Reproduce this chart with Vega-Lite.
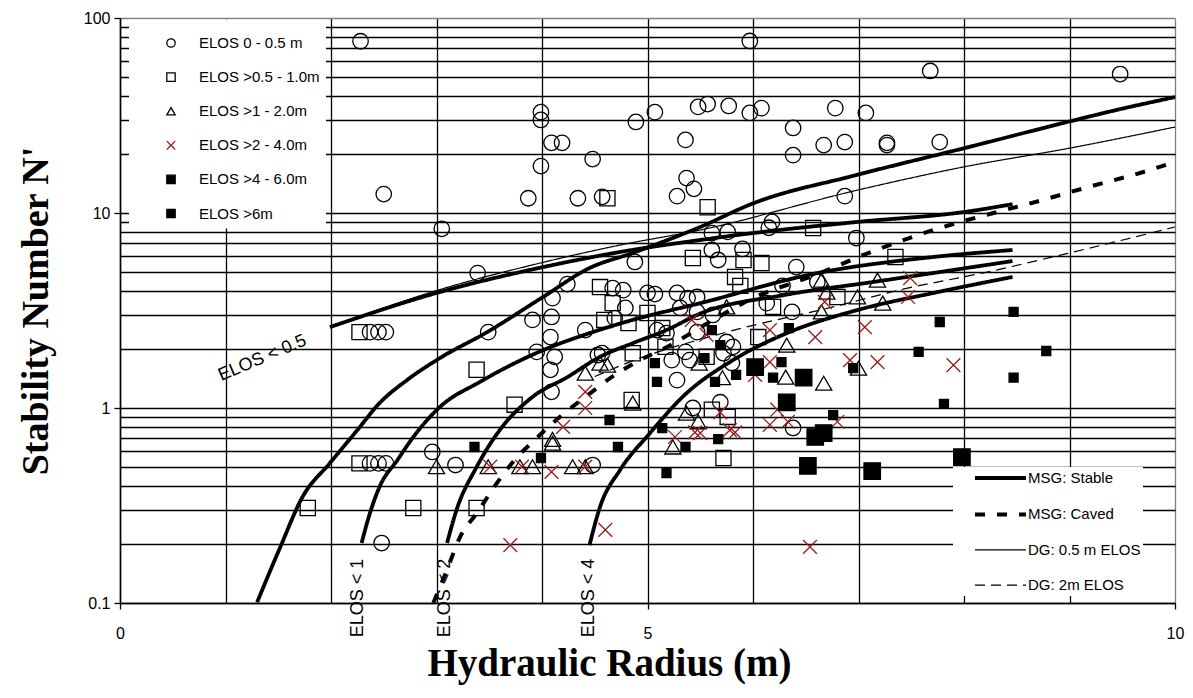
{
  "$schema": "https://vega.github.io/schema/vega-lite/v6.json",
  "width": 1055,
  "height": 585,
  "autosize": {"type": "none"},
  "padding": {"left": 120, "top": 18, "right": 18, "bottom": 95},
  "background": "white",
  "config": {"view": {"stroke": null}, "font": "Liberation Sans"},
  "datasets": {
    "curves": [
      {"id": "s0", "type": "MSG: Stable", "x": 1.30, "y": 0.101},
      {"id": "s0", "type": "MSG: Stable", "x": 1.52, "y": 0.194},
      {"id": "s0", "type": "MSG: Stable", "x": 1.73, "y": 0.350},
      {"id": "s0", "type": "MSG: Stable", "x": 1.99, "y": 0.522},
      {"id": "s0", "type": "MSG: Stable", "x": 2.25, "y": 0.771},
      {"id": "s0", "type": "MSG: Stable", "x": 2.46, "y": 1.06},
      {"id": "s0", "type": "MSG: Stable", "x": 2.72, "y": 1.39},
      {"id": "s0", "type": "MSG: Stable", "x": 3.03, "y": 1.80},
      {"id": "s0", "type": "MSG: Stable", "x": 3.48, "y": 2.45},
      {"id": "s0", "type": "MSG: Stable", "x": 4.01, "y": 3.71},
      {"id": "s0", "type": "MSG: Stable", "x": 4.45, "y": 5.22},
      {"id": "s0", "type": "MSG: Stable", "x": 4.86, "y": 6.24},
      {"id": "s0", "type": "MSG: Stable", "x": 5.50, "y": 8.48},
      {"id": "s0", "type": "MSG: Stable", "x": 6.00, "y": 11.2},
      {"id": "s0", "type": "MSG: Stable", "x": 6.99, "y": 15.7},
      {"id": "s0", "type": "MSG: Stable", "x": 8.09, "y": 22.1},
      {"id": "s0", "type": "MSG: Stable", "x": 8.98, "y": 29.3},
      {"id": "s0", "type": "MSG: Stable", "x": 9.45, "y": 33.8},
      {"id": "s0", "type": "MSG: Stable", "x": 10.0, "y": 39.3},
      {"id": "s1", "type": "MSG: Stable", "x": 1.99, "y": 2.60},
      {"id": "s1", "type": "MSG: Stable", "x": 3.00, "y": 3.89},
      {"id": "s1", "type": "MSG: Stable", "x": 4.01, "y": 5.28},
      {"id": "s1", "type": "MSG: Stable", "x": 4.74, "y": 6.31},
      {"id": "s1", "type": "MSG: Stable", "x": 5.50, "y": 7.27},
      {"id": "s1", "type": "MSG: Stable", "x": 6.00, "y": 7.89},
      {"id": "s1", "type": "MSG: Stable", "x": 6.99, "y": 9.0},
      {"id": "s1", "type": "MSG: Stable", "x": 7.99, "y": 10.1},
      {"id": "s1", "type": "MSG: Stable", "x": 8.46, "y": 11.1},
      {"id": "s2", "type": "MSG: Stable", "x": 2.29, "y": 0.203},
      {"id": "s2", "type": "MSG: Stable", "x": 2.37, "y": 0.290},
      {"id": "s2", "type": "MSG: Stable", "x": 2.46, "y": 0.394},
      {"id": "s2", "type": "MSG: Stable", "x": 2.63, "y": 0.541},
      {"id": "s2", "type": "MSG: Stable", "x": 2.78, "y": 0.710},
      {"id": "s2", "type": "MSG: Stable", "x": 3.03, "y": 1.01},
      {"id": "s2", "type": "MSG: Stable", "x": 3.41, "y": 1.36},
      {"id": "s2", "type": "MSG: Stable", "x": 4.01, "y": 1.98},
      {"id": "s2", "type": "MSG: Stable", "x": 4.45, "y": 2.42},
      {"id": "s2", "type": "MSG: Stable", "x": 4.86, "y": 2.83},
      {"id": "s2", "type": "MSG: Stable", "x": 5.50, "y": 3.45},
      {"id": "s2", "type": "MSG: Stable", "x": 6.61, "y": 4.92},
      {"id": "s2", "type": "MSG: Stable", "x": 7.71, "y": 5.95},
      {"id": "s2", "type": "MSG: Stable", "x": 8.46, "y": 6.46},
      {"id": "s3", "type": "MSG: Stable", "x": 3.10, "y": 0.203},
      {"id": "s3", "type": "MSG: Stable", "x": 3.19, "y": 0.300},
      {"id": "s3", "type": "MSG: Stable", "x": 3.38, "y": 0.498},
      {"id": "s3", "type": "MSG: Stable", "x": 3.60, "y": 0.771},
      {"id": "s3", "type": "MSG: Stable", "x": 3.91, "y": 1.14},
      {"id": "s3", "type": "MSG: Stable", "x": 4.24, "y": 1.44},
      {"id": "s3", "type": "MSG: Stable", "x": 4.55, "y": 1.83},
      {"id": "s3", "type": "MSG: Stable", "x": 4.86, "y": 2.15},
      {"id": "s3", "type": "MSG: Stable", "x": 5.18, "y": 2.51},
      {"id": "s3", "type": "MSG: Stable", "x": 5.50, "y": 3.05},
      {"id": "s3", "type": "MSG: Stable", "x": 6.30, "y": 3.80},
      {"id": "s3", "type": "MSG: Stable", "x": 7.14, "y": 4.43},
      {"id": "s3", "type": "MSG: Stable", "x": 8.46, "y": 5.67},
      {"id": "s4", "type": "MSG: Stable", "x": 4.45, "y": 0.198},
      {"id": "s4", "type": "MSG: Stable", "x": 4.55, "y": 0.311},
      {"id": "s4", "type": "MSG: Stable", "x": 4.74, "y": 0.481},
      {"id": "s4", "type": "MSG: Stable", "x": 5.02, "y": 0.74},
      {"id": "s4", "type": "MSG: Stable", "x": 5.34, "y": 1.15},
      {"id": "s4", "type": "MSG: Stable", "x": 5.81, "y": 1.76},
      {"id": "s4", "type": "MSG: Stable", "x": 6.32, "y": 2.42},
      {"id": "s4", "type": "MSG: Stable", "x": 6.99, "y": 3.18},
      {"id": "s4", "type": "MSG: Stable", "x": 7.71, "y": 3.89},
      {"id": "s4", "type": "MSG: Stable", "x": 8.46, "y": 4.70},
      {"id": "c1", "type": "MSG: Caved", "x": 2.97, "y": 0.100},
      {"id": "c1", "type": "MSG: Caved", "x": 3.10, "y": 0.148},
      {"id": "c1", "type": "MSG: Caved", "x": 3.22, "y": 0.216},
      {"id": "c1", "type": "MSG: Caved", "x": 3.39, "y": 0.293},
      {"id": "c1", "type": "MSG: Caved", "x": 3.56, "y": 0.403},
      {"id": "c1", "type": "MSG: Caved", "x": 3.74, "y": 0.541},
      {"id": "c1", "type": "MSG: Caved", "x": 3.95, "y": 0.702},
      {"id": "c1", "type": "MSG: Caved", "x": 4.19, "y": 0.921},
      {"id": "c1", "type": "MSG: Caved", "x": 4.44, "y": 1.17},
      {"id": "c1", "type": "MSG: Caved", "x": 4.66, "y": 1.44},
      {"id": "c1", "type": "MSG: Caved", "x": 4.93, "y": 1.76},
      {"id": "c1", "type": "MSG: Caved", "x": 5.18, "y": 2.05},
      {"id": "c1", "type": "MSG: Caved", "x": 5.59, "y": 2.76},
      {"id": "c1", "type": "MSG: Caved", "x": 6.00, "y": 3.66},
      {"id": "c1", "type": "MSG: Caved", "x": 6.59, "y": 4.81},
      {"id": "c1", "type": "MSG: Caved", "x": 7.14, "y": 6.38},
      {"id": "c1", "type": "MSG: Caved", "x": 7.71, "y": 8.18},
      {"id": "c1", "type": "MSG: Caved", "x": 8.31, "y": 10.1},
      {"id": "c1", "type": "MSG: Caved", "x": 8.60, "y": 11.1},
      {"id": "c1", "type": "MSG: Caved", "x": 9.18, "y": 13.6},
      {"id": "c1", "type": "MSG: Caved", "x": 9.76, "y": 16.6},
      {"id": "c1", "type": "MSG: Caved", "x": 10.0, "y": 18.3},
      {"id": "d1", "type": "DG: 0.5 m ELOS", "x": 1.99, "y": 2.60},
      {"id": "d1", "type": "DG: 0.5 m ELOS", "x": 3.00, "y": 4.00},
      {"id": "d1", "type": "DG: 0.5 m ELOS", "x": 3.99, "y": 5.55},
      {"id": "d1", "type": "DG: 0.5 m ELOS", "x": 4.74, "y": 6.85},
      {"id": "d1", "type": "DG: 0.5 m ELOS", "x": 5.50, "y": 8.18},
      {"id": "d1", "type": "DG: 0.5 m ELOS", "x": 6.99, "y": 13.1},
      {"id": "d1", "type": "DG: 0.5 m ELOS", "x": 7.99, "y": 17.2},
      {"id": "d1", "type": "DG: 0.5 m ELOS", "x": 9.00, "y": 21.5},
      {"id": "d1", "type": "DG: 0.5 m ELOS", "x": 10.0, "y": 27.6},
      {"id": "d2", "type": "DG: 2m ELOS", "x": 4.50, "y": 1.45},
      {"id": "d2", "type": "DG: 2m ELOS", "x": 4.83, "y": 1.72},
      {"id": "d2", "type": "DG: 2m ELOS", "x": 5.75, "y": 2.45},
      {"id": "d2", "type": "DG: 2m ELOS", "x": 6.76, "y": 3.30},
      {"id": "d2", "type": "DG: 2m ELOS", "x": 7.39, "y": 4.03},
      {"id": "d2", "type": "DG: 2m ELOS", "x": 8.22, "y": 4.98},
      {"id": "d2", "type": "DG: 2m ELOS", "x": 9.00, "y": 6.24},
      {"id": "d2", "type": "DG: 2m ELOS", "x": 10.0, "y": 8.48}
    ],
    "pts": [
      {"g": "ELOS 0 - 0.5 m", "x": 2.28, "y": 76}, {"g": "ELOS 0 - 0.5 m", "x": 2.50, "y": 12.5},
      {"g": "ELOS 0 - 0.5 m", "x": 3.05, "y": 8.3}, {"g": "ELOS 0 - 0.5 m", "x": 3.99, "y": 32.9},
      {"g": "ELOS 0 - 0.5 m", "x": 3.99, "y": 30.0}, {"g": "ELOS 0 - 0.5 m", "x": 4.09, "y": 22.9},
      {"g": "ELOS 0 - 0.5 m", "x": 4.19, "y": 22.9}, {"g": "ELOS 0 - 0.5 m", "x": 3.99, "y": 17.4},
      {"g": "ELOS 0 - 0.5 m", "x": 4.48, "y": 18.9}, {"g": "ELOS 0 - 0.5 m", "x": 3.87, "y": 11.9},
      {"g": "ELOS 0 - 0.5 m", "x": 4.34, "y": 11.9}, {"g": "ELOS 0 - 0.5 m", "x": 4.57, "y": 12.1},
      {"g": "ELOS 0 - 0.5 m", "x": 4.89, "y": 29.3}, {"g": "ELOS 0 - 0.5 m", "x": 5.07, "y": 32.9},
      {"g": "ELOS 0 - 0.5 m", "x": 5.36, "y": 23.7}, {"g": "ELOS 0 - 0.5 m", "x": 5.48, "y": 35.0},
      {"g": "ELOS 0 - 0.5 m", "x": 5.57, "y": 36.2}, {"g": "ELOS 0 - 0.5 m", "x": 5.77, "y": 35.4},
      {"g": "ELOS 0 - 0.5 m", "x": 5.97, "y": 76.2}, {"g": "ELOS 0 - 0.5 m", "x": 5.97, "y": 32.6},
      {"g": "ELOS 0 - 0.5 m", "x": 6.08, "y": 34.5}, {"g": "ELOS 0 - 0.5 m", "x": 5.37, "y": 15.1},
      {"g": "ELOS 0 - 0.5 m", "x": 5.44, "y": 13.3}, {"g": "ELOS 0 - 0.5 m", "x": 5.28, "y": 12.2},
      {"g": "ELOS 0 - 0.5 m", "x": 6.38, "y": 27.3}, {"g": "ELOS 0 - 0.5 m", "x": 6.38, "y": 19.8},
      {"g": "ELOS 0 - 0.5 m", "x": 6.78, "y": 34.5}, {"g": "ELOS 0 - 0.5 m", "x": 6.67, "y": 22.3},
      {"g": "ELOS 0 - 0.5 m", "x": 6.87, "y": 23.1}, {"g": "ELOS 0 - 0.5 m", "x": 7.07, "y": 32.6},
      {"g": "ELOS 0 - 0.5 m", "x": 7.27, "y": 22.9}, {"g": "ELOS 0 - 0.5 m", "x": 7.27, "y": 22.3},
      {"g": "ELOS 0 - 0.5 m", "x": 7.68, "y": 53.5}, {"g": "ELOS 0 - 0.5 m", "x": 7.77, "y": 23.1},
      {"g": "ELOS 0 - 0.5 m", "x": 9.48, "y": 51.6}, {"g": "ELOS 0 - 0.5 m", "x": 6.87, "y": 12.2},
      {"g": "ELOS 0 - 0.5 m", "x": 6.18, "y": 9.0}, {"g": "ELOS 0 - 0.5 m", "x": 6.15, "y": 8.4},
      {"g": "ELOS 0 - 0.5 m", "x": 6.98, "y": 7.44}, {"g": "ELOS 0 - 0.5 m", "x": 3.39, "y": 4.92},
      {"g": "ELOS 0 - 0.5 m", "x": 4.24, "y": 4.32}, {"g": "ELOS 0 - 0.5 m", "x": 4.88, "y": 5.61},
      {"g": "ELOS 0 - 0.5 m", "x": 3.49, "y": 2.45}, {"g": "ELOS 0 - 0.5 m", "x": 4.10, "y": 3.66},
      {"g": "ELOS 0 - 0.5 m", "x": 3.91, "y": 2.83}, {"g": "ELOS 0 - 0.5 m", "x": 4.09, "y": 2.93},
      {"g": "ELOS 0 - 0.5 m", "x": 4.08, "y": 2.31}, {"g": "ELOS 0 - 0.5 m", "x": 3.95, "y": 1.94},
      {"g": "ELOS 0 - 0.5 m", "x": 4.12, "y": 1.83}, {"g": "ELOS 0 - 0.5 m", "x": 4.08, "y": 1.57},
      {"g": "ELOS 0 - 0.5 m", "x": 4.09, "y": 1.21}, {"g": "ELOS 0 - 0.5 m", "x": 4.67, "y": 4.12},
      {"g": "ELOS 0 - 0.5 m", "x": 4.77, "y": 4.02}, {"g": "ELOS 0 - 0.5 m", "x": 4.79, "y": 3.26},
      {"g": "ELOS 0 - 0.5 m", "x": 4.69, "y": 2.89}, {"g": "ELOS 0 - 0.5 m", "x": 4.41, "y": 2.51},
      {"g": "ELOS 0 - 0.5 m", "x": 4.53, "y": 1.87}, {"g": "ELOS 0 - 0.5 m", "x": 5.00, "y": 3.89},
      {"g": "ELOS 0 - 0.5 m", "x": 5.07, "y": 3.84}, {"g": "ELOS 0 - 0.5 m", "x": 5.28, "y": 3.89},
      {"g": "ELOS 0 - 0.5 m", "x": 5.38, "y": 3.66}, {"g": "ELOS 0 - 0.5 m", "x": 5.47, "y": 3.71},
      {"g": "ELOS 0 - 0.5 m", "x": 5.31, "y": 3.26}, {"g": "ELOS 0 - 0.5 m", "x": 5.47, "y": 3.11},
      {"g": "ELOS 0 - 0.5 m", "x": 5.62, "y": 3.0}, {"g": "ELOS 0 - 0.5 m", "x": 5.09, "y": 2.51},
      {"g": "ELOS 0 - 0.5 m", "x": 5.18, "y": 2.42}, {"g": "ELOS 0 - 0.5 m", "x": 5.47, "y": 2.45},
      {"g": "ELOS 0 - 0.5 m", "x": 5.75, "y": 2.18}, {"g": "ELOS 0 - 0.5 m", "x": 5.81, "y": 2.06},
      {"g": "ELOS 0 - 0.5 m", "x": 4.57, "y": 1.91}, {"g": "ELOS 0 - 0.5 m", "x": 5.23, "y": 1.76},
      {"g": "ELOS 0 - 0.5 m", "x": 5.36, "y": 1.94}, {"g": "ELOS 0 - 0.5 m", "x": 5.40, "y": 1.76},
      {"g": "ELOS 0 - 0.5 m", "x": 5.72, "y": 1.91}, {"g": "ELOS 0 - 0.5 m", "x": 5.80, "y": 1.70},
      {"g": "ELOS 0 - 0.5 m", "x": 5.28, "y": 1.39}, {"g": "ELOS 0 - 0.5 m", "x": 5.43, "y": 1.0},
      {"g": "ELOS 0 - 0.5 m", "x": 5.69, "y": 1.07}, {"g": "ELOS 0 - 0.5 m", "x": 6.38, "y": 0.79},
      {"g": "ELOS 0 - 0.5 m", "x": 5.61, "y": 7.89}, {"g": "ELOS 0 - 0.5 m", "x": 5.76, "y": 8.0},
      {"g": "ELOS 0 - 0.5 m", "x": 5.61, "y": 6.46}, {"g": "ELOS 0 - 0.5 m", "x": 5.67, "y": 5.74},
      {"g": "ELOS 0 - 0.5 m", "x": 5.90, "y": 6.54}, {"g": "ELOS 0 - 0.5 m", "x": 6.41, "y": 5.28},
      {"g": "ELOS 0 - 0.5 m", "x": 6.28, "y": 4.23}, {"g": "ELOS 0 - 0.5 m", "x": 6.61, "y": 4.43},
      {"g": "ELOS 0 - 0.5 m", "x": 6.13, "y": 3.45}, {"g": "ELOS 0 - 0.5 m", "x": 6.37, "y": 3.11},
      {"g": "ELOS 0 - 0.5 m", "x": 2.96, "y": 0.595}, {"g": "ELOS 0 - 0.5 m", "x": 3.18, "y": 0.51},
      {"g": "ELOS 0 - 0.5 m", "x": 4.48, "y": 0.51}, {"g": "ELOS 0 - 0.5 m", "x": 2.48, "y": 0.203},
      {"g": "ELOS 0 - 0.5 m", "x": 2.37, "y": 2.45}, {"g": "ELOS 0 - 0.5 m", "x": 2.45, "y": 2.45},
      {"g": "ELOS 0 - 0.5 m", "x": 2.52, "y": 2.45}, {"g": "ELOS 0 - 0.5 m", "x": 2.37, "y": 0.52},
      {"g": "ELOS 0 - 0.5 m", "x": 2.45, "y": 0.52}, {"g": "ELOS 0 - 0.5 m", "x": 2.52, "y": 0.52},
      {"g": "ELOS >0.5 - 1.0m", "x": 2.27, "y": 2.45}, {"g": "ELOS >0.5 - 1.0m", "x": 2.27, "y": 0.52},
      {"g": "ELOS >0.5 - 1.0m", "x": 1.78, "y": 0.307}, {"g": "ELOS >0.5 - 1.0m", "x": 2.78, "y": 0.307},
      {"g": "ELOS >0.5 - 1.0m", "x": 3.38, "y": 0.307}, {"g": "ELOS >0.5 - 1.0m", "x": 3.38, "y": 1.57},
      {"g": "ELOS >0.5 - 1.0m", "x": 3.74, "y": 1.04}, {"g": "ELOS >0.5 - 1.0m", "x": 4.62, "y": 11.9},
      {"g": "ELOS >0.5 - 1.0m", "x": 5.57, "y": 10.7}, {"g": "ELOS >0.5 - 1.0m", "x": 4.55, "y": 4.17},
      {"g": "ELOS >0.5 - 1.0m", "x": 4.67, "y": 3.45}, {"g": "ELOS >0.5 - 1.0m", "x": 4.59, "y": 2.83},
      {"g": "ELOS >0.5 - 1.0m", "x": 4.82, "y": 2.73}, {"g": "ELOS >0.5 - 1.0m", "x": 5.00, "y": 3.07},
      {"g": "ELOS >0.5 - 1.0m", "x": 4.86, "y": 1.91}, {"g": "ELOS >0.5 - 1.0m", "x": 5.14, "y": 2.57},
      {"g": "ELOS >0.5 - 1.0m", "x": 5.43, "y": 5.88}, {"g": "ELOS >0.5 - 1.0m", "x": 5.91, "y": 5.74},
      {"g": "ELOS >0.5 - 1.0m", "x": 6.08, "y": 5.54}, {"g": "ELOS >0.5 - 1.0m", "x": 7.35, "y": 5.95},
      {"g": "ELOS >0.5 - 1.0m", "x": 6.57, "y": 8.38}, {"g": "ELOS >0.5 - 1.0m", "x": 5.83, "y": 4.7},
      {"g": "ELOS >0.5 - 1.0m", "x": 5.88, "y": 4.23}, {"g": "ELOS >0.5 - 1.0m", "x": 6.19, "y": 3.3},
      {"g": "ELOS >0.5 - 1.0m", "x": 6.80, "y": 3.71}, {"g": "ELOS >0.5 - 1.0m", "x": 6.05, "y": 2.31},
      {"g": "ELOS >0.5 - 1.0m", "x": 5.17, "y": 2.06}, {"g": "ELOS >0.5 - 1.0m", "x": 5.56, "y": 1.83},
      {"g": "ELOS >0.5 - 1.0m", "x": 4.85, "y": 1.10}, {"g": "ELOS >0.5 - 1.0m", "x": 5.61, "y": 0.98},
      {"g": "ELOS >0.5 - 1.0m", "x": 5.76, "y": 0.9}, {"g": "ELOS >0.5 - 1.0m", "x": 5.72, "y": 0.554},
      {"g": "ELOS >1 - 2.0m", "x": 3.00, "y": 0.50}, {"g": "ELOS >1 - 2.0m", "x": 3.49, "y": 0.50},
      {"g": "ELOS >1 - 2.0m", "x": 3.79, "y": 0.50}, {"g": "ELOS >1 - 2.0m", "x": 3.91, "y": 0.50},
      {"g": "ELOS >1 - 2.0m", "x": 4.29, "y": 0.50}, {"g": "ELOS >1 - 2.0m", "x": 4.41, "y": 0.50},
      {"g": "ELOS >1 - 2.0m", "x": 4.10, "y": 0.66}, {"g": "ELOS >1 - 2.0m", "x": 4.10, "y": 0.69},
      {"g": "ELOS >1 - 2.0m", "x": 4.41, "y": 1.51}, {"g": "ELOS >1 - 2.0m", "x": 4.62, "y": 1.66},
      {"g": "ELOS >1 - 2.0m", "x": 4.86, "y": 1.06}, {"g": "ELOS >1 - 2.0m", "x": 4.55, "y": 1.70},
      {"g": "ELOS >1 - 2.0m", "x": 5.75, "y": 3.3}, {"g": "ELOS >1 - 2.0m", "x": 5.49, "y": 1.70},
      {"g": "ELOS >1 - 2.0m", "x": 5.71, "y": 1.43}, {"g": "ELOS >1 - 2.0m", "x": 5.37, "y": 0.94},
      {"g": "ELOS >1 - 2.0m", "x": 5.48, "y": 0.85}, {"g": "ELOS >1 - 2.0m", "x": 5.24, "y": 0.631},
      {"g": "ELOS >1 - 2.0m", "x": 6.32, "y": 2.10}, {"g": "ELOS >1 - 2.0m", "x": 6.31, "y": 1.44},
      {"g": "ELOS >1 - 2.0m", "x": 6.32, "y": 1.06}, {"g": "ELOS >1 - 2.0m", "x": 6.67, "y": 1.34},
      {"g": "ELOS >1 - 2.0m", "x": 6.65, "y": 4.53}, {"g": "ELOS >1 - 2.0m", "x": 6.70, "y": 3.93},
      {"g": "ELOS >1 - 2.0m", "x": 6.65, "y": 3.11}, {"g": "ELOS >1 - 2.0m", "x": 6.99, "y": 3.71},
      {"g": "ELOS >1 - 2.0m", "x": 7.18, "y": 4.53}, {"g": "ELOS >1 - 2.0m", "x": 7.23, "y": 3.45},
      {"g": "ELOS >1 - 2.0m", "x": 7.00, "y": 1.60},
      {"g": "ELOS >2 - 4.0m", "x": 3.51, "y": 0.50}, {"g": "ELOS >2 - 4.0m", "x": 3.81, "y": 0.50},
      {"g": "ELOS >2 - 4.0m", "x": 4.09, "y": 0.47}, {"g": "ELOS >2 - 4.0m", "x": 4.41, "y": 0.50},
      {"g": "ELOS >2 - 4.0m", "x": 4.20, "y": 0.80}, {"g": "ELOS >2 - 4.0m", "x": 4.41, "y": 1.21},
      {"g": "ELOS >2 - 4.0m", "x": 4.41, "y": 1.0}, {"g": "ELOS >2 - 4.0m", "x": 3.70, "y": 0.198},
      {"g": "ELOS >2 - 4.0m", "x": 4.60, "y": 0.237}, {"g": "ELOS >2 - 4.0m", "x": 5.26, "y": 0.71},
      {"g": "ELOS >2 - 4.0m", "x": 5.42, "y": 2.83}, {"g": "ELOS >2 - 4.0m", "x": 5.45, "y": 0.75},
      {"g": "ELOS >2 - 4.0m", "x": 5.56, "y": 2.37}, {"g": "ELOS >2 - 4.0m", "x": 6.16, "y": 2.51},
      {"g": "ELOS >2 - 4.0m", "x": 6.59, "y": 2.31}, {"g": "ELOS >2 - 4.0m", "x": 6.68, "y": 3.5},
      {"g": "ELOS >2 - 4.0m", "x": 6.16, "y": 1.72}, {"g": "ELOS >2 - 4.0m", "x": 6.02, "y": 1.48},
      {"g": "ELOS >2 - 4.0m", "x": 7.49, "y": 4.64}, {"g": "ELOS >2 - 4.0m", "x": 7.47, "y": 3.71},
      {"g": "ELOS >2 - 4.0m", "x": 7.06, "y": 2.60}, {"g": "ELOS >2 - 4.0m", "x": 6.92, "y": 1.76},
      {"g": "ELOS >2 - 4.0m", "x": 7.18, "y": 1.72}, {"g": "ELOS >2 - 4.0m", "x": 7.90, "y": 1.66},
      {"g": "ELOS >2 - 4.0m", "x": 5.50, "y": 0.744}, {"g": "ELOS >2 - 4.0m", "x": 5.69, "y": 0.95},
      {"g": "ELOS >2 - 4.0m", "x": 5.78, "y": 0.77}, {"g": "ELOS >2 - 4.0m", "x": 5.83, "y": 0.75},
      {"g": "ELOS >2 - 4.0m", "x": 6.16, "y": 0.82}, {"g": "ELOS >2 - 4.0m", "x": 6.23, "y": 0.98},
      {"g": "ELOS >2 - 4.0m", "x": 6.33, "y": 0.85}, {"g": "ELOS >2 - 4.0m", "x": 6.80, "y": 0.85},
      {"g": "ELOS >2 - 4.0m", "x": 6.54, "y": 0.194},
      {"g": "ELOS >4 - 6.0m", "x": 3.36, "y": 0.631}, {"g": "ELOS >4 - 6.0m", "x": 3.99, "y": 0.554},
      {"g": "ELOS >4 - 6.0m", "x": 4.64, "y": 0.868}, {"g": "ELOS >4 - 6.0m", "x": 4.72, "y": 0.631},
      {"g": "ELOS >4 - 6.0m", "x": 5.14, "y": 0.789}, {"g": "ELOS >4 - 6.0m", "x": 5.36, "y": 0.631},
      {"g": "ELOS >4 - 6.0m", "x": 5.18, "y": 0.464}, {"g": "ELOS >4 - 6.0m", "x": 5.07, "y": 1.70},
      {"g": "ELOS >4 - 6.0m", "x": 5.09, "y": 1.36}, {"g": "ELOS >4 - 6.0m", "x": 5.61, "y": 2.51},
      {"g": "ELOS >4 - 6.0m", "x": 5.69, "y": 2.10}, {"g": "ELOS >4 - 6.0m", "x": 5.54, "y": 1.80},
      {"g": "ELOS >4 - 6.0m", "x": 5.64, "y": 1.36}, {"g": "ELOS >4 - 6.0m", "x": 5.84, "y": 1.48},
      {"g": "ELOS >4 - 6.0m", "x": 6.19, "y": 1.43}, {"g": "ELOS >4 - 6.0m", "x": 6.27, "y": 1.72},
      {"g": "ELOS >4 - 6.0m", "x": 6.34, "y": 2.57}, {"g": "ELOS >4 - 6.0m", "x": 6.95, "y": 1.60},
      {"g": "ELOS >4 - 6.0m", "x": 5.67, "y": 0.693}, {"g": "ELOS >4 - 6.0m", "x": 6.76, "y": 0.92},
      {"g": "ELOS >4 - 6.0m", "x": 7.77, "y": 2.76}, {"g": "ELOS >4 - 6.0m", "x": 7.57, "y": 1.94},
      {"g": "ELOS >4 - 6.0m", "x": 7.81, "y": 1.05}, {"g": "ELOS >4 - 6.0m", "x": 8.47, "y": 3.11},
      {"g": "ELOS >4 - 6.0m", "x": 8.78, "y": 1.96}, {"g": "ELOS >4 - 6.0m", "x": 8.47, "y": 1.43},
      {"g": "ELOS >6m", "x": 6.02, "y": 1.62}, {"g": "ELOS >6m", "x": 6.48, "y": 1.43},
      {"g": "ELOS >6m", "x": 6.32, "y": 1.07}, {"g": "ELOS >6m", "x": 6.59, "y": 0.71},
      {"g": "ELOS >6m", "x": 6.67, "y": 0.744}, {"g": "ELOS >6m", "x": 6.52, "y": 0.505},
      {"g": "ELOS >6m", "x": 7.13, "y": 0.475}, {"g": "ELOS >6m", "x": 7.98, "y": 0.56}
    ],
    "vlabs": [
      {"t": "ELOS < 1", "x": 2.26, "y": 0.106},
      {"t": "ELOS < 2", "x": 3.08, "y": 0.106},
      {"t": "ELOS < 4", "x": 4.45, "y": 0.106}
    ],
    "slabs": [
      {"t": "ELOS < 0.5", "x": 1.35, "y": 1.80}
    ]
  },
  "layer": [
    {
      "data": {"name": "curves"},
      "mark": {"type": "line", "interpolate": "monotone", "stroke": "black", "clip": true},
      "encoding": {
        "x": {
          "field": "x", "type": "quantitative",
          "scale": {"domain": [0, 10], "nice": false, "zero": false},
          "axis": {
            "values": [0, 1, 2, 3, 4, 5, 6, 7, 8, 9, 10],
            "format": "d",
            "labelExpr": "datum.value % 5 === 0 ? datum.label : ''",
            "labelFlush": false,
            "labelOverlap": false,
            "grid": true,
            "gridColor": {"condition": {"test": "datum.value >= 9.99", "value": "#808080"}, "value": "black"},
            "gridWidth": 1.3,
            "domainColor": "black", "domainWidth": 1.5,
            "tickColor": "black", "tickWidth": 1.3, "tickSize": 6,
            "tickOpacity": {"condition": {"test": "datum.value % 5 === 0", "value": 1}, "value": 0},
            "labelFont": "Liberation Sans", "labelFontSize": 16, "labelColor": "black", "labelPadding": 16,
            "title": "Hydraulic Radius (m)",
            "titleFont": "Liberation Serif", "titleFontSize": 39, "titleFontWeight": "bold", "titleColor": "black",
            "titlePadding": 3, "titleX": 489
          }
        },
        "y": {
          "field": "y", "type": "quantitative",
          "scale": {"type": "log", "domain": [0.1, 100], "nice": false},
          "axis": {
            "values": [0.1, 0.2, 0.3, 0.4, 0.5, 0.6, 0.7, 0.8, 0.9, 1, 2, 3, 4, 5, 6, 7, 8, 9, 10, 20, 30, 40, 50, 60, 70, 80, 90, 100],
            "format": "~g",
            "labelExpr": "abs(log(datum.value)/LN10 - round(log(datum.value)/LN10)) < 0.001 ? datum.label : ''",
            "labelOverlap": false,
            "labelFlush": false,
            "grid": true,
            "gridColor": {"condition": {"test": "datum.value >= 99", "value": "#808080"}, "value": "black"},
            "gridWidth": 1.3,
            "domainColor": "black", "domainWidth": 1.5,
            "tickColor": "black", "tickWidth": 1.3, "tickSize": 6,
            "tickOpacity": {"condition": {"test": "abs(log(datum.value)/LN10 - round(log(datum.value)/LN10)) < 0.001", "value": 1}, "value": 0},
            "labelFont": "Liberation Sans", "labelFontSize": 16, "labelColor": "black", "labelPadding": 4,
            "title": "Stability Number N'",
            "titleFont": "Liberation Serif", "titleFontSize": 38, "titleFontWeight": "bold", "titleColor": "black",
            "titlePadding": 28
          }
        },
        "detail": {"field": "id", "type": "nominal"},
        "strokeDash": {
          "field": "type", "type": "nominal", "title": null,
          "scale": {"domain": ["MSG: Stable", "MSG: Caved", "DG: 0.5 m ELOS", "DG: 2m ELOS"], "range": [[1, 0], [10, 12], [1, 0], [10, 6]]},
          "legend": {
            "orient": "none", "legendX": 833, "legendY": 449,
            "padding": 2, "fillColor": "white", "strokeColor": null,
            "symbolType": "M-3.64,0H3.64", "symbolSize": 196, "symbolStrokeColor": "black",
            "symbolOffset": 36.5, "labelOffset": 18.5, "rowPadding": 19.4,
            "labelFont": "Liberation Sans", "labelFontSize": 15, "labelColor": "black", "labelLimit": 400,
            "labelExpr": "datum.label + '\u00a0\u00a0\u00a0\u00a0\u00a0\u00a0\u00a0\u00a0'"
          }
        },
        "strokeWidth": {
          "field": "type", "type": "nominal", "title": null,
          "scale": {"type": "ordinal", "domain": ["MSG: Stable", "MSG: Caved", "DG: 0.5 m ELOS", "DG: 2m ELOS"], "range": [3.8, 4, 1.2, 1.2]},
          "legend": {
            "orient": "none", "legendX": 833, "legendY": 449,
            "padding": 2, "fillColor": "white", "strokeColor": null,
            "symbolType": "M-3.64,0H3.64", "symbolSize": 196, "symbolStrokeColor": "black",
            "symbolOffset": 36.5, "labelOffset": 18.5, "rowPadding": 19.4,
            "labelFont": "Liberation Sans", "labelFontSize": 15, "labelColor": "black", "labelLimit": 400,
            "labelExpr": "datum.label + '\u00a0\u00a0\u00a0\u00a0\u00a0\u00a0\u00a0\u00a0'"
          }
        }
      }
    },
    {
      "data": {"name": "pts"},
      "mark": {"type": "point", "opacity": 1, "strokeWidth": 1.3},
      "encoding": {
        "x": {"field": "x", "type": "quantitative"},
        "y": {"field": "y", "type": "quantitative"},
        "shape": {
          "field": "g", "type": "nominal", "title": "\u00a0",
          "scale": {"domain": ["ELOS 0 - 0.5 m", "ELOS >0.5 - 1.0m", "ELOS >1 - 2.0m", "ELOS >2 - 4.0m", "ELOS >4 - 6.0m", "ELOS >6m"],
                    "range": ["circle", "square", "triangle-up", "M-1,-1L1,1M1,-1L-1,1", "square", "square"]},
          "legend": {
            "orient": "none", "legendX": 9, "legendY": 1.5,
            "padding": 6.5, "fillColor": "white", "strokeColor": null,
            "titleFontSize": 6, "titlePadding": 3.5,
            "symbolSize": 70, "symbolStrokeWidth": 1.3,
            "symbolOffset": 28, "labelOffset": 20.5, "rowPadding": 18.1,
            "labelFont": "Liberation Sans", "labelFontSize": 15, "labelColor": "black", "labelLimit": 400,
            "labelExpr": "datum.label + '\u00a0\u00a0\u00a0\u00a0'",
            "encode": {"symbols": {"update": {"size": {"signal": "datum.value === 'ELOS >4 - 6.0m' ? 36 : datum.value === 'ELOS >6m' ? 72 : datum.value === 'ELOS >0.5 - 1.0m' ? 64 : 80"}}}}
          }
        },
        "fill": {
          "field": "g", "type": "nominal", "title": "\u00a0",
          "scale": {"domain": ["ELOS 0 - 0.5 m", "ELOS >0.5 - 1.0m", "ELOS >1 - 2.0m", "ELOS >2 - 4.0m", "ELOS >4 - 6.0m", "ELOS >6m"],
                    "range": ["transparent", "transparent", "transparent", "transparent", "black", "black"]},
          "legend": {
            "orient": "none", "legendX": 9, "legendY": 1.5,
            "padding": 6.5, "fillColor": "white", "strokeColor": null,
            "titleFontSize": 6, "titlePadding": 3.5,
            "symbolSize": 70, "symbolStrokeWidth": 1.3,
            "symbolOffset": 28, "labelOffset": 20.5, "rowPadding": 18.1,
            "labelFont": "Liberation Sans", "labelFontSize": 15, "labelColor": "black", "labelLimit": 400,
            "labelExpr": "datum.label + '\u00a0\u00a0\u00a0\u00a0'",
            "encode": {"symbols": {"update": {"size": {"signal": "datum.value === 'ELOS >4 - 6.0m' ? 36 : datum.value === 'ELOS >6m' ? 72 : datum.value === 'ELOS >0.5 - 1.0m' ? 64 : 80"}}}}
          }
        },
        "stroke": {
          "field": "g", "type": "nominal", "title": "\u00a0",
          "scale": {"domain": ["ELOS 0 - 0.5 m", "ELOS >0.5 - 1.0m", "ELOS >1 - 2.0m", "ELOS >2 - 4.0m", "ELOS >4 - 6.0m", "ELOS >6m"],
                    "range": ["black", "black", "black", "#9b1b1b", "black", "black"]},
          "legend": {
            "orient": "none", "legendX": 9, "legendY": 1.5,
            "padding": 6.5, "fillColor": "white", "strokeColor": null,
            "titleFontSize": 6, "titlePadding": 3.5,
            "symbolSize": 70, "symbolStrokeWidth": 1.3,
            "symbolOffset": 28, "labelOffset": 20.5, "rowPadding": 18.1,
            "labelFont": "Liberation Sans", "labelFontSize": 15, "labelColor": "black", "labelLimit": 400,
            "labelExpr": "datum.label + '\u00a0\u00a0\u00a0\u00a0'",
            "encode": {"symbols": {"update": {"size": {"signal": "datum.value === 'ELOS >4 - 6.0m' ? 36 : datum.value === 'ELOS >6m' ? 72 : datum.value === 'ELOS >0.5 - 1.0m' ? 64 : 80"}}}}
          }
        },
        "size": {
          "field": "g", "type": "nominal", "legend": null,
          "scale": {"type": "ordinal", "domain": ["ELOS >6m", "ELOS >4 - 6.0m", "ELOS >2 - 4.0m", "ELOS >1 - 2.0m", "ELOS >0.5 - 1.0m", "ELOS 0 - 0.5 m"],
                    "range": [270, 81, 190, 260, 230, 240]}
        }
      }
    },
    {
      "data": {"name": "vlabs"},
      "mark": {"type": "text", "angle": 270, "align": "center", "baseline": "middle", "font": "Liberation Sans", "fontSize": 18, "color": "black"},
      "encoding": {
        "x": {"field": "x", "type": "quantitative"},
        "y": {"field": "y", "type": "quantitative"},
        "text": {"field": "t"}
      }
    },
    {
      "data": {"name": "slabs"},
      "mark": {"type": "text", "angle": 337, "align": "center", "baseline": "middle", "font": "Liberation Sans", "fontSize": 18, "color": "black"},
      "encoding": {
        "x": {"field": "x", "type": "quantitative"},
        "y": {"field": "y", "type": "quantitative"},
        "text": {"field": "t"}
      }
    }
  ]
}
